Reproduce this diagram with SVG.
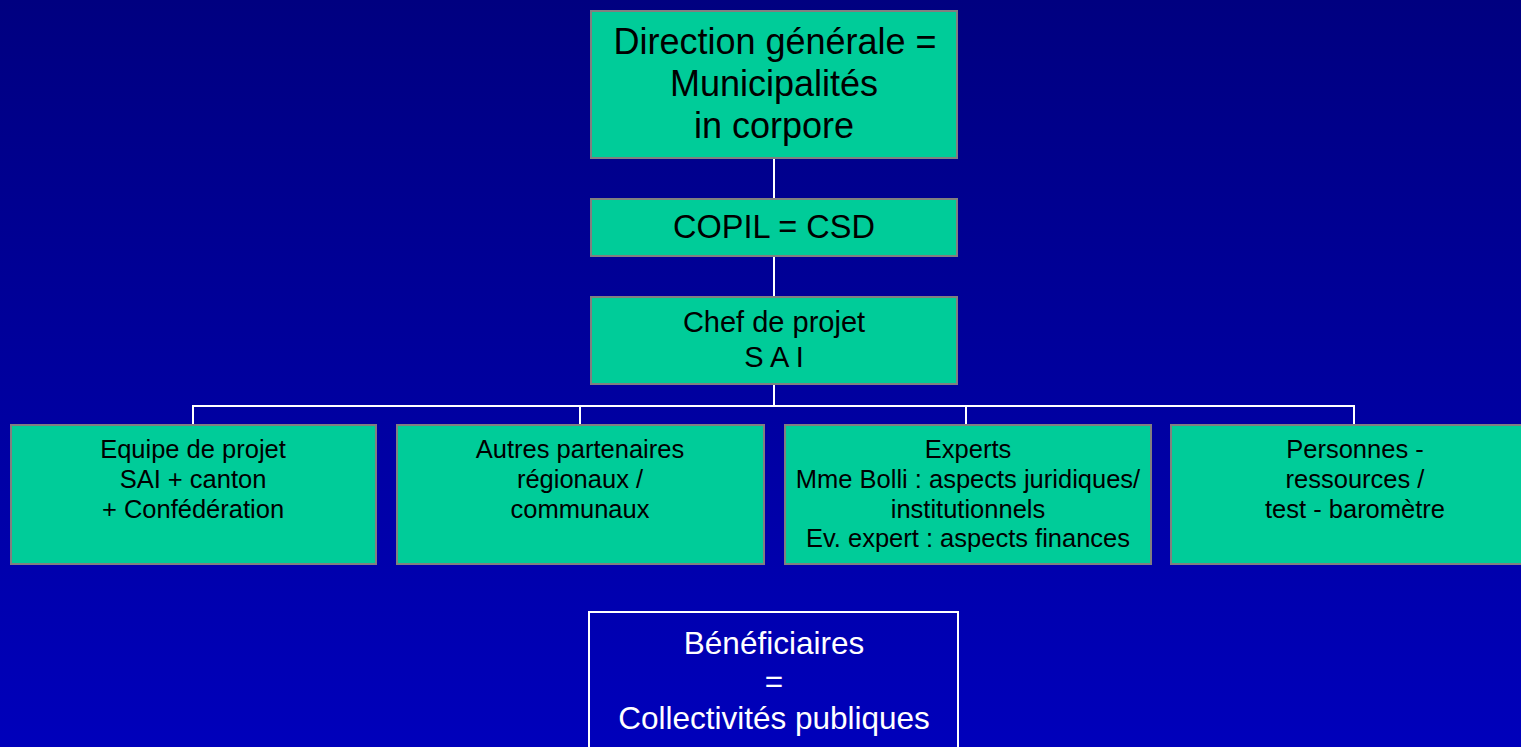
<svg xmlns="http://www.w3.org/2000/svg" width="1521" height="747" viewBox="0 0 1521 747">
<defs>
<linearGradient id="bg" x1="0" y1="0" x2="0" y2="1">
<stop offset="0" stop-color="#000080"/>
<stop offset="1" stop-color="#0000BB"/>
</linearGradient>
</defs>
<style>
.box{fill:#00CC99;stroke:#808080;stroke-width:2}
.t{font-family:"Liberation Sans",Arial,sans-serif;fill:#000;text-anchor:middle}
.w{font-family:"Liberation Sans",Arial,sans-serif;fill:#fff;text-anchor:middle}
.c{stroke:#fff;stroke-width:2;fill:none}
</style>
<rect width="1521" height="747" fill="url(#bg)"/>
<g id="connectors">
<line class="c" x1="774" y1="158" x2="774" y2="199"/>
<line class="c" x1="774" y1="256" x2="774" y2="297"/>
<line class="c" x1="774" y1="384" x2="774" y2="406"/>
<polyline class="c" points="193,425 193,406 1354,406 1354,425"/>
<line class="c" x1="580" y1="406" x2="580" y2="425"/>
<line class="c" x1="966" y1="406" x2="966" y2="425"/>
</g>
<g id="direction">
<rect class="box" x="591" y="11" width="366" height="147"/>
<text class="t" font-size="36"><tspan x="775" y="54">Direction générale =</tspan><tspan x="774" y="96">Municipalités</tspan><tspan x="774" y="138">in corpore</tspan></text>
</g>
<g id="copil">
<rect class="box" x="591" y="199" width="366" height="57"/>
<text class="t" font-size="32.5" x="774" y="238">COPIL = CSD</text>
</g>
<g id="chef">
<rect class="box" x="591" y="297" width="366" height="87"/>
<text class="t" font-size="29"><tspan x="774" y="332">Chef de projet</tspan><tspan x="774" y="367">S A I</tspan></text>
</g>
<g id="equipe">
<rect class="box" x="11" y="425" width="365" height="139"/>
<text class="t" font-size="25.5"><tspan x="193" y="458">Equipe de projet</tspan><tspan x="193" y="488">SAI + canton</tspan><tspan x="193" y="518">+ Confédération</tspan></text>
</g>
<g id="autres">
<rect class="box" x="397" y="425" width="367" height="139"/>
<text class="t" font-size="25.5"><tspan x="580" y="458">Autres partenaires</tspan><tspan x="580" y="488">régionaux /</tspan><tspan x="580" y="518">communaux</tspan></text>
</g>
<g id="experts">
<rect class="box" x="785" y="425" width="366" height="139"/>
<text class="t" font-size="25.5"><tspan x="968" y="458">Experts</tspan><tspan x="968" y="488">Mme Bolli : aspects juridiques/</tspan><tspan x="968" y="518">institutionnels</tspan><tspan x="968" y="547">Ev. expert : aspects finances</tspan></text>
</g>
<g id="personnes">
<rect class="box" x="1171" y="425" width="366" height="139"/>
<text class="t" font-size="25.5"><tspan x="1355" y="458">Personnes -</tspan><tspan x="1355" y="488">ressources /</tspan><tspan x="1355" y="518">test - baromètre</tspan></text>
</g>
<g id="beneficiaires">
<rect x="589" y="612" width="369" height="150" fill="none" stroke="#fff" stroke-width="2"/>
<text class="w" font-size="31.5"><tspan x="774" y="654">Bénéficiaires</tspan><tspan x="774" y="692">=</tspan><tspan x="774" y="729">Collectivités publiques</tspan></text>
</g>
</svg>
